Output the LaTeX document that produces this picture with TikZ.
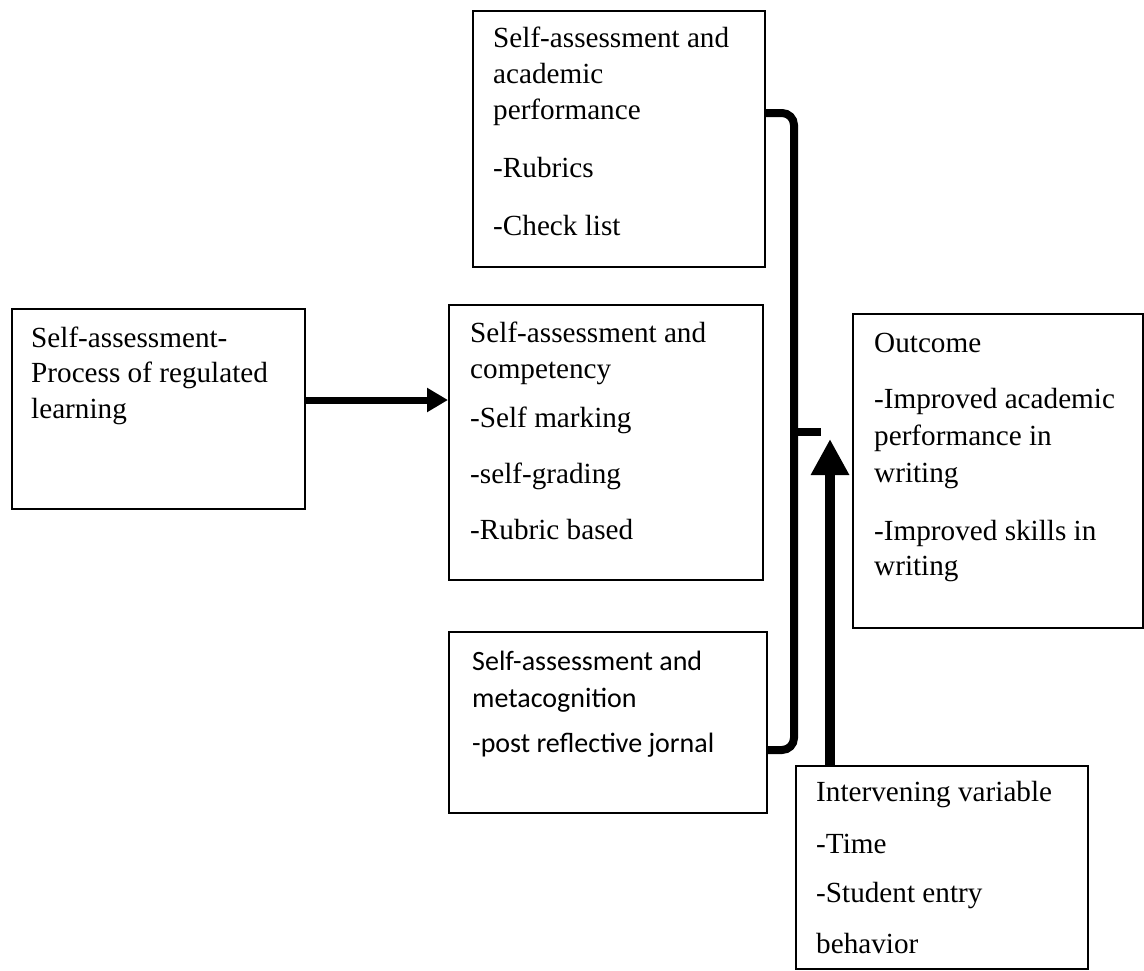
\documentclass[tikz,border=0pt]{standalone}
\usepackage{fontspec}
\setmainfont{Liberation Serif}
\newfontfamily\calib{Carlito}
\usetikzlibrary{arrows.meta,calc}
\begin{document}
\begin{tikzpicture}[x=1pt,y=-1pt,
  box/.style={draw, line width=1.5pt, inner sep=0pt, anchor=north west},
  txt/.style={anchor=base west, inner sep=0pt, font=\fontsize{29.2}{35}\selectfont},
  ctxt/.style={anchor=base west, inner sep=0pt, font=\calib\fontsize{28}{34}\selectfont},
  bracestroke/.style={line width=8pt, rounded corners=12pt},
  harrow/.style={line width=7pt, -{Triangle[length=21pt,width=23pt]}},
  varrow/.style={line width=10pt, -{Triangle[length=36pt,width=36pt]}}]
\useasboundingbox (0,0) rectangle (1144,970);
% boxes
\node[box, minimum width=292pt, minimum height=256pt] (top) at (472,10) {};
\node[box, minimum width=293pt, minimum height=200pt] (left) at (11,308) {};
\node[box, minimum width=314pt, minimum height=275pt] (mid) at (448,304) {};
\node[box, minimum width=318pt, minimum height=181pt] (meta) at (448,631) {};
\node[box, minimum width=290pt, minimum height=314pt] (out) at (852,313) {};
\node[box, minimum width=292pt, minimum height=203pt] (inter) at (795,765) {};
% texts
\node[txt] (t1) at (493,47) {Self-assessment and};
\node[txt] (t2) at (493,83) {academic};
\node[txt] (t3) at (493,119) {performance};
\node[txt] (t4) at (493,177) {-Rubrics};
\node[txt] (t5) at (493,235) {-Check list};
\node[txt] (l1) at (31,347) {Self-assessment-};
\node[txt] (l2) at (31,382) {Process of regulated};
\node[txt] (l3) at (31,418) {learning};
\node[txt] (m1) at (470,342) {Self-assessment and};
\node[txt] (m2) at (470,378) {competency};
\node[txt] (m3) at (470,427) {-Self marking};
\node[txt] (m4) at (470,483) {-self-grading};
\node[txt] (m5) at (470,539) {-Rubric based};
\node[ctxt] (c1) at (472,670) {Self-assessment and};
\node[ctxt] (c2) at (472,707) {metacognition};
\node[ctxt] (c3) at (472,752) {-post reflective jornal};
\node[txt] (o1) at (874,352) {Outcome};
\node[txt] (o2) at (874,408) {-Improved academic};
\node[txt] (o3) at (874,445) {performance in};
\node[txt] (o4) at (874,482) {writing};
\node[txt] (o5) at (874,540) {-Improved skills in};
\node[txt] (o6) at (874,575) {writing};
\node[txt] (i1) at (816,801) {Intervening variable};
\node[txt] (i2) at (816,853) {-Time};
\node[txt] (i3) at (816,902) {-Student entry};
\node[txt] (i4) at (816,953) {behavior};
% connectors
\coordinate (hy) at (0,400);
\draw[harrow] (left.east |- hy) -- (mid.west |- hy);
\coordinate (tip) at (830,439);
\draw[varrow] (tip |- inter.north) -- (tip);
\coordinate (bt) at (0,113);
\coordinate (bb) at (0,750);
\coordinate (bm) at (794,432);
\coordinate (bp) at (821,432);
\draw[bracestroke] (top.east |- bt) -| (bm);
\draw[bracestroke] (meta.east |- bb) -| (bm);
\draw[line width=8pt] (bm) -- (bp);
\end{tikzpicture}
\end{document}
